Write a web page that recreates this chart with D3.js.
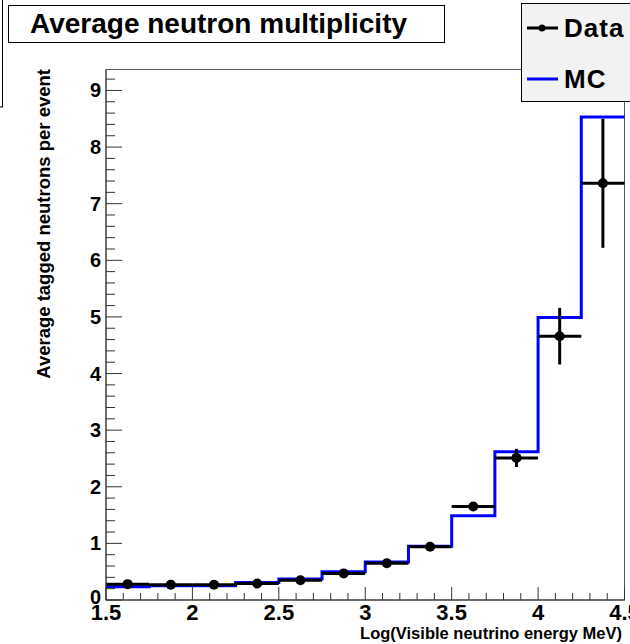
<!DOCTYPE html>
<html>
<head>
<meta charset="utf-8">
<script src="https://cdn.jsdelivr.net/npm/d3@7"></script>
<style>
  body { margin: 0; background: #fff; }
  svg { display: block; }
  text { font-family: "Liberation Sans", Arial, sans-serif; font-weight: bold; }
</style>
</head>
<body>
<script>
// bin edges in Log(E) and bin centres
var binEdges = [1.5, 1.75, 2.0, 2.25, 2.5, 2.75, 3.0, 3.25, 3.5, 3.75, 4.0, 4.25, 4.5];
var binCenters = [1.625, 1.875, 2.125, 2.375, 2.625, 2.875, 3.125, 3.375, 3.625, 3.875, 4.125, 4.375];

// measured average, with its error
var dataValues = [0.28, 0.27, 0.27, 0.29, 0.35, 0.47, 0.65, 0.94, 1.65, 2.51, 4.66, 7.36];
var dataErrors = [0.02, 0.02, 0.02, 0.02, 0.02, 0.03, 0.03, 0.04, 0.06, 0.16, 0.50, 1.14];

// MC prediction
var mcValues = [0.235, 0.25, 0.25, 0.31, 0.37, 0.50, 0.67, 0.95, 1.49, 2.62, 4.99, 8.53];

var xTicks = [1.5, 2, 2.5, 3, 3.5, 4, 4.5];
var xTickLabels = ["1.5", "2", "2.5", "3", "3.5", "4", "4.5"];
var yTicks = [0, 1, 2, 3, 4, 5, 6, 7, 8, 9];

var width = 630, height = 644;
var padL = 106, padR = 624.5, padT = 69.5, padB = 600;

var svg = d3.select("body").append("svg")
    .attr("width", width)
    .attr("height", height);

var x = d3.scaleLinear().domain([1.5, 4.5]).range([padL, padR]);
var y = d3.scaleLinear().domain([0, 9.37]).range([padB, padT]);

// frame
svg.append("rect")
    .attr("x", padL)
    .attr("y", padT)
    .attr("width", padR - padL)
    .attr("height", padB - padT)
    .attr("fill", "none")
    .attr("stroke", "#555")
    .attr("stroke-width", 1);

// MC histogram as a step line
var steps = [];
mcValues.forEach(function(v, i) {
    steps.push([binEdges[i], v]);
    steps.push([binEdges[i + 1], v]);
});
var stepLine = d3.line()
    .x(function(d) { return x(d[0]); })
    .y(function(d) { return y(d[1]); });

svg.append("path")
    .datum(steps)
    .attr("d", stepLine)
    .attr("fill", "none")
    .attr("stroke", "#0000ff")
    .attr("stroke-width", 3)
    .attr("stroke-linejoin", "miter");

// data points with error bars
var pts = svg.append("g").selectAll("g")
    .data(dataValues)
    .enter()
    .append("g");

pts.append("line")
    .attr("x1", function(d, i) { return x(binEdges[i]); })
    .attr("x2", function(d, i) { return x(binEdges[i + 1]); })
    .attr("y1", function(d) { return y(d); })
    .attr("y2", function(d) { return y(d); })
    .attr("stroke", "#000")
    .attr("stroke-width", 3);

pts.append("line")
    .attr("x1", function(d, i) { return x(binCenters[i]); })
    .attr("x2", function(d, i) { return x(binCenters[i]); })
    .attr("y1", function(d, i) { return y(d - dataErrors[i]); })
    .attr("y2", function(d, i) { return y(d + dataErrors[i]); })
    .attr("stroke", "#000")
    .attr("stroke-width", 3);

pts.append("circle")
    .attr("cx", function(d, i) { return x(binCenters[i]); })
    .attr("cy", function(d) { return y(d); })
    .attr("r", 5)
    .attr("fill", "#000");

// x axis ticks
var xMinor = d3.range(15, 46).map(function(v) { return v / 10; });
svg.append("g").selectAll("line")
    .data(xMinor)
    .enter()
    .append("line")
    .attr("x1", function(d) { return x(d); })
    .attr("x2", function(d) { return x(d); })
    .attr("y1", padB)
    .attr("y2", function(d, i) { return i % 5 == 0 ? padB - 13 : padB - 7; })
    .attr("stroke", "#333")
    .attr("stroke-width", 1);

svg.append("line")
    .attr("x1", padL).attr("x2", padR)
    .attr("y1", padB).attr("y2", padB)
    .attr("stroke", "#333");

svg.append("g").selectAll("text")
    .data(xTicks)
    .enter()
    .append("text")
    .attr("x", function(d) { return x(d); })
    .attr("y", 620)
    .attr("text-anchor", "middle")
    .attr("font-size", 22)
    .text(function(d, i) { return xTickLabels[i]; });

// y axis ticks
var yMinor = d3.range(0, 47).map(function(v) { return v / 5; });
svg.append("g").selectAll("line")
    .data(yMinor)
    .enter()
    .append("line")
    .attr("x1", padL)
    .attr("x2", function(d, i) { return i % 5 == 0 ? padL + 16 : padL + 9; })
    .attr("y1", function(d) { return y(d); })
    .attr("y2", function(d) { return y(d); })
    .attr("stroke", "#333")
    .attr("stroke-width", 1);

svg.append("line")
    .attr("x1", padL).attr("x2", padL)
    .attr("y1", padT).attr("y2", padB)
    .attr("stroke", "#333");

svg.append("g").selectAll("text")
    .data(yTicks)
    .enter()
    .append("text")
    .attr("x", 101)
    .attr("y", function(d, i) { return i == 0 ? y(d) + 4 : y(d) + 7; })
    .attr("text-anchor", "end")
    .attr("font-size", 20)
    .text(function(d) { return d; });

// axis titles
svg.append("text")
    .attr("x", 622)
    .attr("y", 639)
    .attr("text-anchor", "end")
    .attr("font-size", 16.5)
    .text("Log(Visible neutrino energy MeV)");

svg.append("text")
    .attr("transform", "translate(50,69) rotate(-90)")
    .attr("text-anchor", "end")
    .attr("font-size", 18.5)
    .text("Average tagged neutrons per event");

// partial box at the top left corner
svg.append("rect")
    .attr("x", -20).attr("y", -20)
    .attr("width", 22.5).attr("height", 127)
    .attr("fill", "none")
    .attr("stroke", "#000");

// title box
svg.append("rect")
    .attr("x", 8.5).attr("y", 5.5)
    .attr("width", 436).attr("height", 37)
    .attr("fill", "#fff")
    .attr("stroke", "#000");

svg.append("text")
    .attr("x", 30)
    .attr("y", 33)
    .attr("font-size", 28)
    .text("Average neutron multiplicity");

// legend
var legend = svg.append("g");
legend.append("rect")
    .attr("x", 521.5).attr("y", 3.5)
    .attr("width", 130).attr("height", 98)
    .attr("fill", "#f2f2f2")
    .attr("stroke", "#000");

legend.append("line")
    .attr("x1", 527).attr("x2", 558)
    .attr("y1", 28).attr("y2", 28)
    .attr("stroke", "#000").attr("stroke-width", 3);
legend.append("circle")
    .attr("cx", 542).attr("cy", 28).attr("r", 3.5)
    .attr("fill", "#000");
legend.append("text")
    .attr("x", 564).attr("y", 37)
    .attr("font-size", 26)
    .attr("letter-spacing", 1)
    .text("Data");

legend.append("line")
    .attr("x1", 527).attr("x2", 558)
    .attr("y1", 79).attr("y2", 79)
    .attr("stroke", "#0000ff").attr("stroke-width", 3);
legend.append("text")
    .attr("x", 564).attr("y", 88)
    .attr("font-size", 26)
    .attr("letter-spacing", 1)
    .text("MC");
</script>
</body>
</html>
